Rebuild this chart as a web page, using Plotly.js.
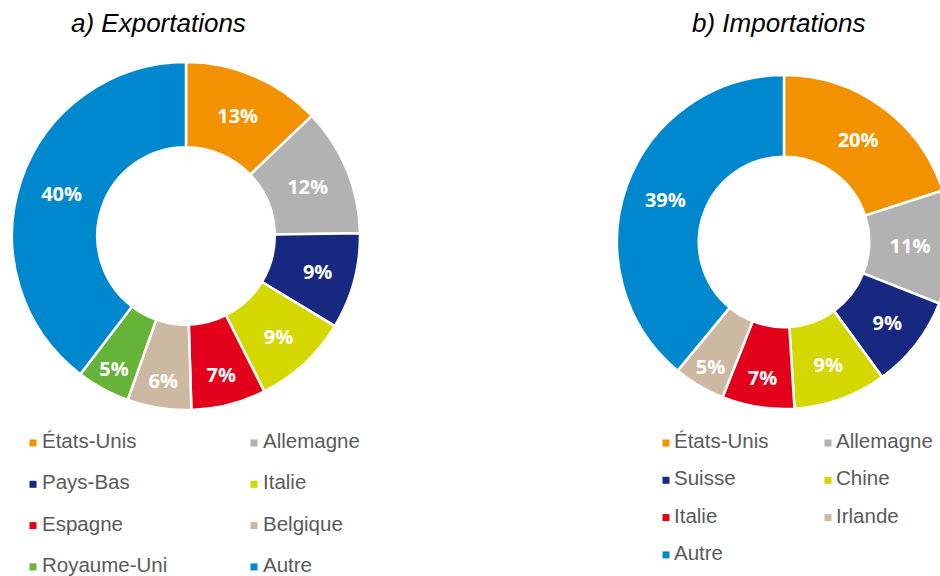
<!DOCTYPE html>
<html>
<head>
<meta charset="utf-8">
<script src="https://cdn.plot.ly/plotly-3.0.1.min.js"></script>
<style>
html, body { margin: 0; padding: 0; overflow: hidden; background: #fff; }
#chart { width: 960px; height: 576px; }
</style>
</head>
<body>
<div id="chart"></div>
<script>
// ---- Data ----
const exportLabels = ["États-Unis", "Allemagne", "Pays-Bas", "Italie", "Espagne", "Belgique", "Royaume-Uni", "Autre"];
const exportValues = [13, 12, 9, 9, 7, 6, 5, 40];
const exportColors = ["#F39200", "#B2B2B2", "#16287F", "#D4D800", "#E2001A", "#CDB9A1", "#66B33A", "#0088CE"];

const importLabels = ["États-Unis", "Allemagne", "Suisse", "Chine", "Italie", "Irlande", "Autre"];
const importValues = [20, 11, 9, 9, 7, 5, 39];
const importColors = ["#F39200", "#B2B2B2", "#16287F", "#D4D800", "#E2001A", "#CDB9A1", "#0088CE"];

const titles = ["a) Exportations", "b) Importations"];

// ---- Layout constants ----
const W = 960, H = 576;
function pieDomain(cx, cy, r) {
  return {
    x: [(cx - r) / W, (cx + r) / W],
    y: [(H - cy - r) / H, (H - cy + r) / H]
  };
}

const sliceStyle = {
  type: "pie",
  hole: 0.51,
  sort: false,
  direction: "clockwise",
  rotation: 0,
  textposition: "inside",
  insidetextorientation: "horizontal",
  texttemplate: "%{value}%",
  textfont: { family: "Open Sans", size: 20, color: "#FFFFFF", weight: 700 },
  hoverinfo: "skip",
  showlegend: false
};

const pieExp = Object.assign({}, sliceStyle, {
  labels: exportLabels,
  values: exportValues,
  marker: { colors: exportColors, line: { color: "#FFFFFF", width: 2.5 } },
  domain: pieDomain(186, 236, 174)
});
const pieImp = Object.assign({}, sliceStyle, {
  labels: importLabels,
  values: importValues,
  marker: { colors: importColors, line: { color: "#FFFFFF", width: 2.5 } },
  domain: pieDomain(784, 242, 167)
});

// Legend grid (2 columns)
function legendTraces(labels, colors, colX, row0, rowStep, textGap) {
  const mx = [], my = [], tx = [];
  labels.forEach((l, i) => {
    const c = i % 2, r = Math.floor(i / 2);
    mx.push(colX[c]);
    my.push(row0 + r * rowStep);
    tx.push(colX[c] + textGap);
  });
  return [
    {
      type: "scatter", mode: "markers", x: mx, y: my,
      marker: { symbol: "square", size: 7, color: colors },
      hoverinfo: "skip", showlegend: false, cliponaxis: false
    },
    {
      type: "scatter", mode: "text", x: tx, y: my, text: labels,
      textposition: "middle right",
      textfont: { family: "Liberation Sans, Arial, sans-serif", size: 20.5, color: "#5A5A5A" },
      hoverinfo: "skip", showlegend: false, cliponaxis: false
    }
  ];
}

const legExp = legendTraces(exportLabels, exportColors, [33, 254], 443, 41.3, 9);
const legImp = legendTraces(importLabels, importColors, [666, 828], 443, 37.3, 8);

const layout = {
  width: W,
  height: H,
  margin: { l: 0, r: 0, t: 0, b: 0 },
  paper_bgcolor: "#FFFFFF",
  plot_bgcolor: "rgba(0,0,0,0)",
  showlegend: false,
  hovermode: false,
  xaxis: { range: [0, W], visible: false, fixedrange: true },
  yaxis: { range: [H, 0], visible: false, fixedrange: true },
  annotations: [
    { text: titles[0], x: 158, y: 23, xref: "x", yref: "y", showarrow: false,
      font: { family: "Liberation Sans, Arial, sans-serif", size: 26, color: "#000000", style: "italic" } },
    { text: titles[1], x: 778, y: 23, xref: "x", yref: "y", showarrow: false,
      font: { family: "Liberation Sans, Arial, sans-serif", size: 26, color: "#000000", style: "italic" } }
  ]
};

Plotly.newPlot("chart", [pieExp, pieImp].concat(legExp, legImp), layout, { displayModeBar: false, staticPlot: true });
</script>
</body>
</html>
